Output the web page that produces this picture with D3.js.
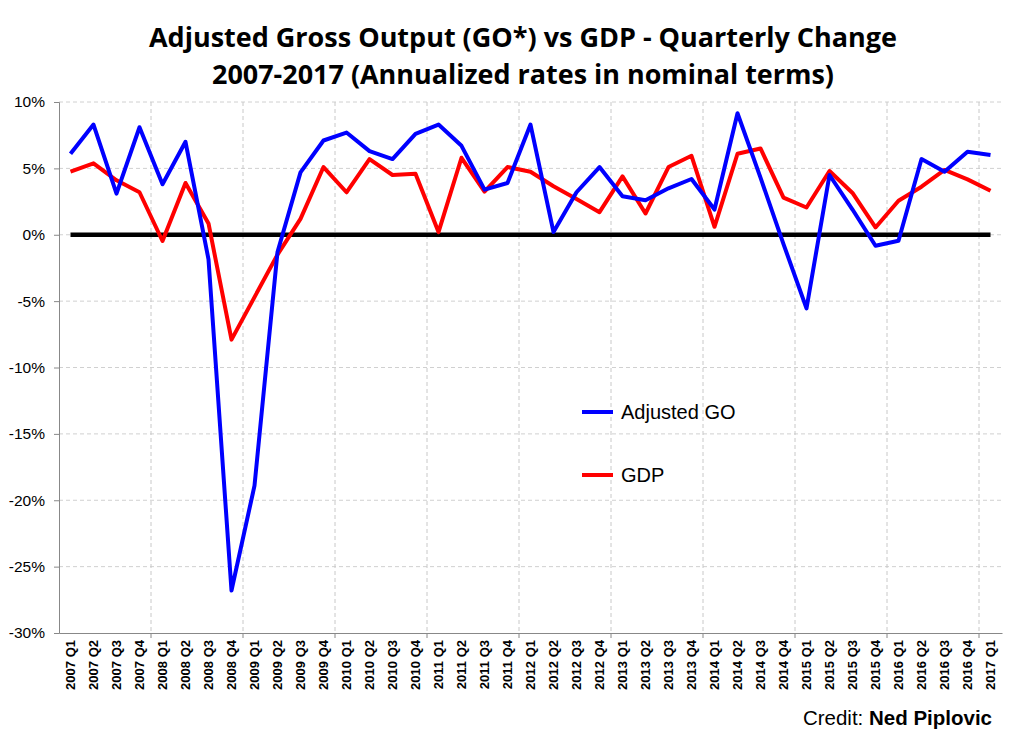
<!DOCTYPE html>
<html>
<head>
<meta charset="utf-8">
<style>
    body { margin: 0; background: #fff; }
    svg { display: block; }
    .title { font-family: 'Open Sans', 'Noto Sans', sans-serif; font-weight: bold; font-size: 26px; fill: #000; }
    .ytick { font-family: 'Liberation Sans', Arial, sans-serif; font-size: 15.5px; fill: #000; }
    .xtick { font-family: 'Liberation Sans', Arial, sans-serif; font-size: 13px; font-weight: bold; fill: #000; }
    .legend { font-family: 'Liberation Sans', Arial, sans-serif; font-size: 20px; fill: #000; }
    .credit { font-family: 'Liberation Sans', Arial, sans-serif; font-size: 20.5px; fill: #000; }
</style>
</head>
<body>
<svg width="1013" height="743"></svg>

<script src="https://d3js.org/d3.v7.min.js"></script>
<script>
    // quarters 2007 Q1 .. 2017 Q1
    const years = [2007, 2008, 2009, 2010, 2011, 2012, 2013, 2014, 2015, 2016, 2017]
    const quarters = []
    years.forEach(y => ["Q1", "Q2", "Q3", "Q4"].forEach(q => {
        if (y < 2017 || q == "Q1") quarters.push(y + " " + q)
    }))

    // annualized quarterly change, %
    const adjustedGO = [
        6.1, 8.3, 3.1, 8.1,
        3.8, 7.0, -1.85, -26.8,
        -18.9, -1.3, 4.7, 7.1,
        7.7, 6.3, 5.7, 7.6,
        8.3, 6.7, 3.4, 3.9,
        8.3, 0.2, 3.2, 5.1,
        2.9, 2.6, 3.5, 4.2,
        1.9, 9.15, 4.3, -0.7,
        -5.55, 4.5, 1.9, -0.83,
        -0.45, 5.7, 4.75, 6.25,
        6.0
    ]
    const gdp = [
        4.75, 5.38, 4.1, 3.2,
        -0.47, 3.9, 0.85, -7.9,
        -4.7, -1.5, 1.2, 5.1,
        3.2, 5.7, 4.5, 4.6,
        0.2, 5.8, 3.25, 5.1,
        4.75, 3.65, 2.7, 1.7,
        4.4, 1.6, 5.1, 5.95,
        0.6, 6.1, 6.5, 2.8,
        2.05, 4.8, 3.15, 0.55,
        2.56, 3.62, 4.88, 4.17,
        3.32
    ]
    const zeroLine = quarters.map(() => 0)
    const yTicks = [10, 5, 0, -5, -10, -15, -20, -25, -30]

    let svg = d3.select("svg")

    let plotLeft = 59, plotRight = 1002, plotTop = 102, plotBottom = 633

    let x = d3.scaleBand()
        .domain(quarters)
        .range([plotLeft, plotRight])
        .padding(0)

    let y = d3.scaleLinear()
        .domain([-30, 10])
        .range([plotBottom, plotTop])

    let cx = d => x(d) + x.bandwidth() / 2

    // title
    svg.append("text").attr("class", "title")
        .attr("x", 523).attr("y", 47)
        .attr("text-anchor", "middle")
        .attr("textLength", 748).attr("lengthAdjust", "spacingAndGlyphs")
        .text("Adjusted Gross Output (GO*) vs GDP - Quarterly Change")
    svg.append("text").attr("class", "title")
        .attr("x", 523).attr("y", 84)
        .attr("text-anchor", "middle")
        .attr("textLength", 622).attr("lengthAdjust", "spacingAndGlyphs")
        .text("2007-2017 (Annualized rates in nominal terms)")

    // horizontal gridlines
    svg.append("g")
        .selectAll("line")
        .data(yTicks.filter(d => d != -30))
        .join("line")
        .attr("x1", plotLeft).attr("x2", plotRight)
        .attr("y1", d => y(d)).attr("y2", d => y(d))
        .style("stroke", "#d0d0d0")
        .style("stroke-dasharray", "4,3")

    // vertical gridlines every 4 quarters
    let vq = quarters.filter((d, i) => i > 0 && i % 4 == 0)
    svg.append("g")
        .selectAll("line")
        .data(vq)
        .join("line")
        .attr("x1", d => x(d)).attr("x2", d => x(d))
        .attr("y1", plotTop).attr("y2", plotBottom)
        .style("stroke", "#c8c8c8")
        .style("stroke-dasharray", "4,3")

    // y axis
    let yAxis = svg.append("g")
        .attr("transform", "translate(" + plotLeft + ",0)")
        .call(d3.axisLeft(y).tickValues(yTicks).tickSize(5).tickPadding(9).tickFormat(d => d + "%"))
    yAxis.attr("font-family", null).attr("font-size", null)
    yAxis.select(".domain").style("stroke", "#888")
    yAxis.selectAll(".tick line").style("stroke", "#888")
    yAxis.selectAll(".tick text").attr("class", "ytick")

    // x axis
    let xAxis = svg.append("g")
        .attr("transform", "translate(0," + plotBottom + ")")
        .call(d3.axisBottom(x).tickSize(0).tickSizeOuter(0))
    xAxis.attr("font-family", null).attr("font-size", null)
    xAxis.select(".domain").style("stroke", "#888")
    xAxis.selectAll(".tick text")
        .attr("class", "xtick")
        .attr("transform", "rotate(-90)")
        .attr("text-anchor", "end")
        .attr("x", -7).attr("y", 0).attr("dy", "0.35em")
    svg.append("g")
        .selectAll("line")
        .data(vq)
        .join("line")
        .attr("x1", d => x(d)).attr("x2", d => x(d))
        .attr("y1", plotBottom).attr("y2", plotBottom + 5)
        .style("stroke", "#888")

    // lines
    let line = d3.line()
        .x((d, i) => cx(quarters[i]))
        .y(d => y(d))

    svg.append("path")
        .attr("d", line(zeroLine))
        .style("fill", "none")
        .style("stroke", "#000")
        .style("stroke-width", 4.5)

    svg.append("path")
        .attr("d", line(gdp))
        .style("fill", "none")
        .style("stroke", "#ff0000")
        .style("stroke-width", 4)
        .style("stroke-linejoin", "round")

    svg.append("path")
        .attr("d", line(adjustedGO))
        .style("fill", "none")
        .style("stroke", "#0000ff")
        .style("stroke-width", 4)
        .style("stroke-linejoin", "round")

    // legend
    let legend = [
        { name: "Adjusted GO", color: "#0000ff", y: 412 },
        { name: "GDP", color: "#ff0000", y: 475 }
    ]
    let lg = svg.append("g").selectAll("g").data(legend).join("g")
    lg.append("line")
        .attr("x1", 582).attr("x2", 613)
        .attr("y1", d => d.y).attr("y2", d => d.y)
        .style("stroke", d => d.color)
        .style("stroke-width", 4)
    lg.append("text").attr("class", "legend")
        .attr("x", 621).attr("y", d => d.y).attr("dy", "0.35em")
        .text(d => d.name)

    // credit
    let credit = svg.append("text").attr("class", "credit")
        .attr("x", 992).attr("y", 725)
        .attr("text-anchor", "end")
    credit.append("tspan").text("Credit: ")
    credit.append("tspan").style("font-weight", "bold").text("Ned Piplovic")
</script>
</body>
</html>
